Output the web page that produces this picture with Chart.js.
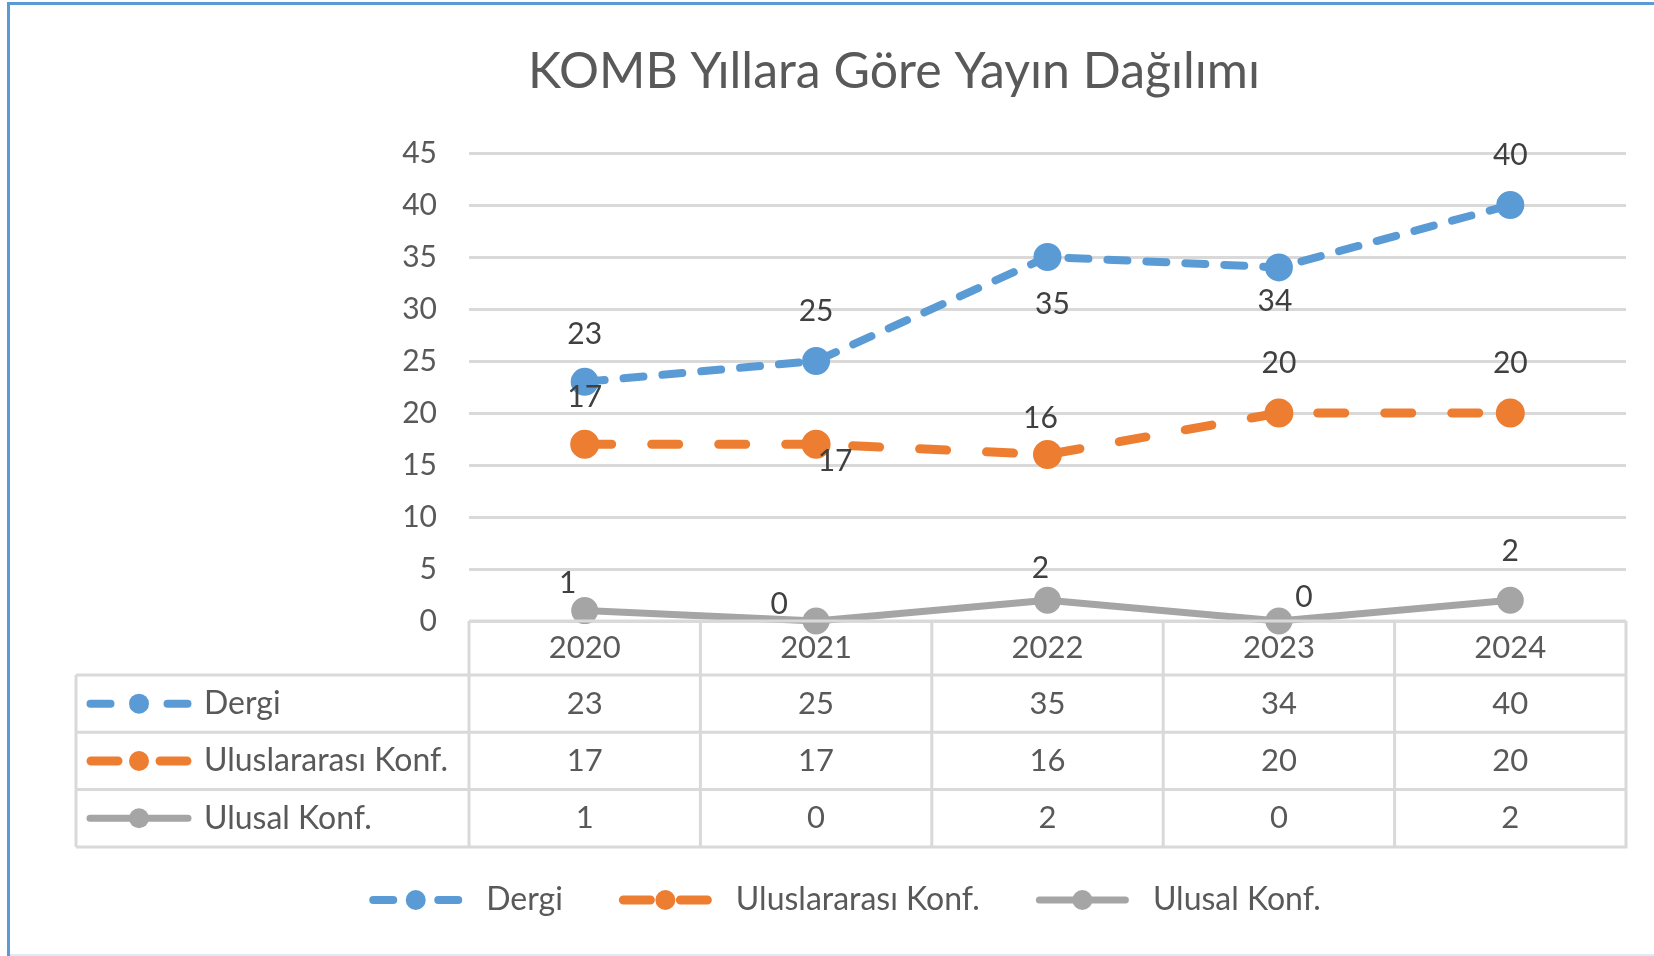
<!DOCTYPE html>
<html>
<head>
<meta charset="utf-8">
<script src="https://cdn.jsdelivr.net/npm/chart.js@4.4.1/dist/chart.umd.min.js"></script>
<style>
    html, body { margin: 0; padding: 0; background: #fff; }
    #wrap { width: 1654px; height: 956px; }
</style>
</head>
<body>
<div id="wrap"><canvas id="chart" width="1654" height="956"></canvas></div>
<script>
// 데이터
const years = ['2020', '2021', '2022', '2023', '2024'];
const dergi = [23, 25, 35, 34, 40];
const uluslararasi = [17, 17, 16, 20, 20];
const ulusal = [1, 0, 2, 0, 2];
const seriesNames = ['Dergi', 'Uluslararası Konf.', 'Ulusal Konf.'];
const yMin = 0, yMax = 45, yStep = 5;

// 데이터 레이블 위치 (점 기준 dx, dy)
const labelOffsets = [
    [[0, -47], [0, -50], [5, 47], [-4, 34], [0, -50]],
    [[0, -47], [19, 17], [-7, -36], [0, -50], [0, -50]],
    [[-17, -27], [-37, -17], [-7, -32], [25, -24], [0, -49]]
];

const FONT = 'Lato, "Open Sans", sans-serif';
const TEXT = '#595959';
const LABEL = '#404040';
const GRID = '#D9D9D9';

Chart.defaults.font.family = FONT;
Chart.defaults.color = TEXT;

function drawSymbol(ctx, ds, cx, cy, w) {
    const lw = ds.borderWidth, r = ds.pointRadius;
    ctx.save();
    ctx.strokeStyle = ds.borderColor;
    ctx.fillStyle = ds.borderColor;
    ctx.lineWidth = lw;
    ctx.lineCap = 'round';
    const x0 = cx - w / 2 + lw / 2, x1 = cx + w / 2 - lw / 2;
    ctx.beginPath();
    if (ds.borderDash && ds.borderDash.length) {
        const d = ds.borderDash[0];
        ctx.moveTo(x0, cy); ctx.lineTo(x0 + d, cy);
        ctx.moveTo(x1 - d, cy); ctx.lineTo(x1, cy);
    } else {
        ctx.moveTo(x0, cy); ctx.lineTo(x1, cy);
    }
    ctx.stroke();
    ctx.beginPath();
    ctx.arc(cx, cy, r, 0, Math.PI * 2);
    ctx.fill();
    ctx.restore();
}

// 배경 + 파란 테두리
const framePlugin = {
    id: 'frame',
    beforeDraw(chart) {
        const ctx = chart.ctx;
        ctx.save();
        ctx.fillStyle = '#fff';
        ctx.fillRect(0, 0, chart.width, chart.height);
        ctx.fillStyle = '#5B9BD5';
        ctx.fillRect(7, 2, chart.width - 7, 3);
        ctx.fillRect(7, 2, 3, chart.height - 2);
        ctx.fillStyle = '#DDEBF7';
        ctx.fillRect(10, chart.height - 2, chart.width - 10, 2);
        ctx.restore();
    }
};

// 데이터 레이블
const labelPlugin = {
    id: 'pointLabels',
    afterDatasetsDraw(chart) {
        const ctx = chart.ctx;
        ctx.save();
        ctx.font = '30px ' + FONT;
        ctx.fillStyle = LABEL;
        ctx.textAlign = 'center';
        ctx.textBaseline = 'middle';
        chart.data.datasets.forEach((ds, i) => {
            chart.getDatasetMeta(i).data.forEach((pt, j) => {
                const off = labelOffsets[i][j];
                ctx.fillText(String(ds.data[j]), pt.x + off[0], pt.y + off[1]);
            });
        });
        ctx.restore();
    }
};

// 데이터 표 + 범례
const tablePlugin = {
    id: 'dataTable',
    afterDraw(chart) {
        const {ctx, chartArea: ca, scales: {x}} = chart;
        const sets = chart.data.datasets;
        const step = x.getPixelForValue(1) - x.getPixelForValue(0);
        const colLeft = x.getPixelForValue(0) - step / 2;
        const top = ca.bottom, headH = 54, rowH = 57.3;
        const tableLeft = 76;
        const rowsTop = top + headH;
        const bottom = rowsTop + rowH * sets.length;

        ctx.save();
        ctx.strokeStyle = GRID;
        ctx.lineWidth = 3;
        ctx.beginPath();
        ctx.moveTo(colLeft, top); ctx.lineTo(ca.right, top);
        for (let r = 0; r <= sets.length; r++) {
            const y = rowsTop + r * rowH;
            ctx.moveTo(tableLeft, y); ctx.lineTo(ca.right + 1.5, y);
        }
        for (let c = 0; c <= years.length; c++) {
            const xx = colLeft + c * step;
            ctx.moveTo(xx, top); ctx.lineTo(xx, bottom);
        }
        ctx.moveTo(tableLeft, rowsTop); ctx.lineTo(tableLeft, bottom);
        ctx.stroke();

        ctx.fillStyle = TEXT;
        ctx.textBaseline = 'middle';
        sets.forEach((ds, i) => {
            const cy = rowsTop + rowH * i + rowH / 2;
            drawSymbol(ctx, ds, 139, cy, 105);
            ctx.fillStyle = TEXT;
            ctx.font = '32px ' + FONT;
            ctx.textAlign = 'left';
            ctx.fillText(ds.label, 204, cy);
            ctx.font = '31px ' + FONT;
            ctx.textAlign = 'center';
            ds.data.forEach((v, j) => {
                ctx.fillText(String(v), x.getPixelForValue(j), cy);
            });
        });

        // 범례
        ctx.font = '32px ' + FONT;
        const symW = 93, textGap = 24, itemGap = 56, legendY = 900, legendCenter = 845;
        const widths = sets.map(ds => symW + textGap + ctx.measureText(ds.label).width);
        const total = widths.reduce((a, b) => a + b, 0) + itemGap * (sets.length - 1);
        let lx = legendCenter - total / 2;
        ctx.textAlign = 'left';
        sets.forEach((ds, i) => {
            drawSymbol(ctx, ds, lx + symW / 2, legendY, symW);
            ctx.fillStyle = TEXT;
            ctx.fillText(ds.label, lx + symW + textGap, legendY);
            lx += widths[i] + itemGap;
        });
        ctx.restore();
    }
};

const ctx = document.getElementById('chart').getContext('2d');
new Chart(ctx, {
    type: 'line',
    data: {
        labels: years,
        datasets: [
            {
                label: seriesNames[0],
                data: dergi,
                borderColor: '#5B9BD5',
                backgroundColor: '#5B9BD5',
                borderWidth: 8,
                borderDash: [20, 19],
                pointRadius: 10
            },
            {
                label: seriesNames[1],
                data: uluslararasi,
                borderColor: '#ED7D31',
                backgroundColor: '#ED7D31',
                borderWidth: 9,
                borderDash: [27, 40],
                pointRadius: 10
            },
            {
                label: seriesNames[2],
                data: ulusal,
                borderColor: '#A5A5A5',
                backgroundColor: '#A5A5A5',
                borderWidth: 7,
                borderDash: [],
                pointRadius: 10
            }
        ]
    },
    options: {
        responsive: false,
        animation: false,
        clip: false,
        elements: {
            line: { tension: 0, borderCapStyle: 'round', borderJoinStyle: 'round', fill: false },
            point: { borderWidth: 0, hoverRadius: 10 }
        },
        layout: { padding: { left: 162, right: 28, top: 0, bottom: 0 } },
        plugins: {
            legend: { display: false },
            tooltip: { enabled: false },
            title: {
                display: true,
                text: 'KOMB Yıllara Göre Yayın Dağılımı',
                color: TEXT,
                font: { size: 50, weight: 'normal', family: FONT },
                padding: { top: 42, bottom: 51 }
            }
        },
        scales: {
            x: {
                offset: true,
                grid: { display: false, drawTicks: false },
                border: { display: false },
                ticks: { font: { size: 31 }, color: TEXT, padding: 8, maxRotation: 0 },
                afterFit(scale) { scale.height = 335; }
            },
            y: {
                min: yMin,
                max: yMax,
                grid: { color: GRID, lineWidth: 3, drawTicks: false },
                border: { display: false },
                ticks: { stepSize: yStep, font: { size: 30 }, color: TEXT, padding: 32 },
                afterFit(scale) { scale.width = 307; }
            }
        }
    },
    plugins: [framePlugin, labelPlugin, tablePlugin]
});
</script>
</body>
</html>
